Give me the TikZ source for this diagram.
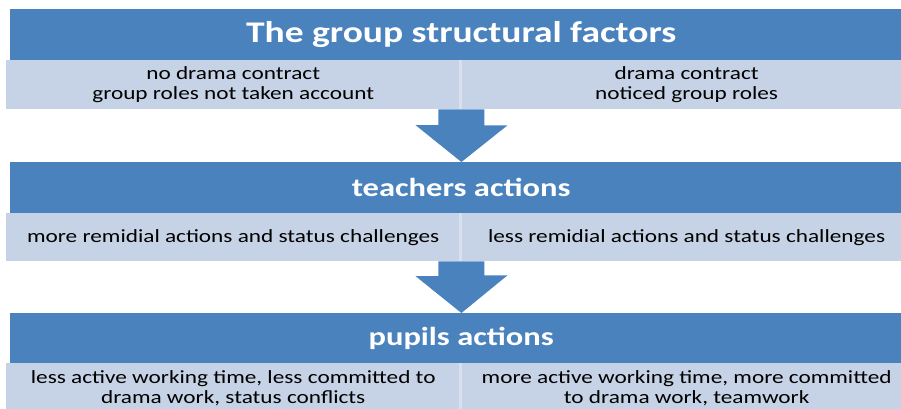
\documentclass[tikz,border=0pt]{standalone}
\usepackage{fontspec}
\setmainfont[FakeStretch=1.25]{Carlito}
\usetikzlibrary{calc}
\definecolor{headblue}{HTML}{4A82BE}
\definecolor{subblue}{HTML}{C6D2E5}
\definecolor{divline}{HTML}{D8E0EE}

\begin{document}
\begin{tikzpicture}[x=1pt,y=1pt,
    header/.style={fill=headblue, text=white, inner sep=0pt, anchor=north west,
      minimum width=902pt, minimum height=51pt, font=\fontsize{26}{30}\selectfont\bfseries},
    subbox/.style={fill=subblue, inner sep=0pt, anchor=north west, align=center,
      minimum height=49pt, font=\fontsize{18.6}{20.5}\selectfont},
    blockarrow/.style={fill=headblue}]
    \useasboundingbox (0,0) rectangle (901,-408);
    % first row
    \node [header, font=\fontsize{30}{36}\selectfont\bfseries] (factors) at (10,-9) {The group structural factors};
    \node [subbox, minimum width=454pt] (noContract) at (6,-60) {no drama contract\\group roles not taken account};
    \node [subbox, minimum width=452pt] (contract) at (noContract.north east) {drama contract\\noticed group roles};
    \draw [divline, line width=2.5pt] (noContract.north east) -- (noContract.south east);
    % second row
    \node [header] (teachers) at (10,-162) {teachers actions};
    \node [subbox, minimum width=454pt, minimum height=48pt] (moreRemedial) at (6,-213) {more remidial actions and status challenges};
    \node [subbox, minimum width=452pt, minimum height=48pt] (lessRemedial) at (moreRemedial.north east) {less remidial actions and status challenges};
    \draw [divline, line width=2.5pt] (moreRemedial.north east) -- (moreRemedial.south east);
    % third row
    \node [header] (pupils) at (10,-313) {pupils actions};
    \node [subbox, minimum width=454pt, minimum height=50pt] (lessActive) at (6,-363) {less active working time, less committed to\\drama work, status conflicts};
    \node [subbox, minimum width=452pt, minimum height=50pt] (moreActive) at (lessActive.north east) {more active working time, more committed\\to drama work, teamwork};
    \draw [divline, line width=2.5pt] (lessActive.north east) -- (lessActive.south east);
    % arrows
    \coordinate (arrowA) at ($(noContract.south east)+(1,0)$);
    \fill [blockarrow] ($(arrowA)+(-23,0)$) -- ++(46,0) -- ++(0,-16) -- ++(23,0)
      -- (arrowA |- teachers.north) -- ++(-46,37) -- ++(23,0) -- cycle;
    \coordinate (arrowB) at ($(moreRemedial.south east)+(1,0)$);
    \fill [blockarrow] ($(arrowB)+(-23,0)$) -- ++(46,0) -- ++(0,-14) -- ++(23,0)
      -- (arrowB |- pupils.north) -- ++(-46,37) -- ++(23,0) -- cycle;
  \end{tikzpicture}
\end{document}
